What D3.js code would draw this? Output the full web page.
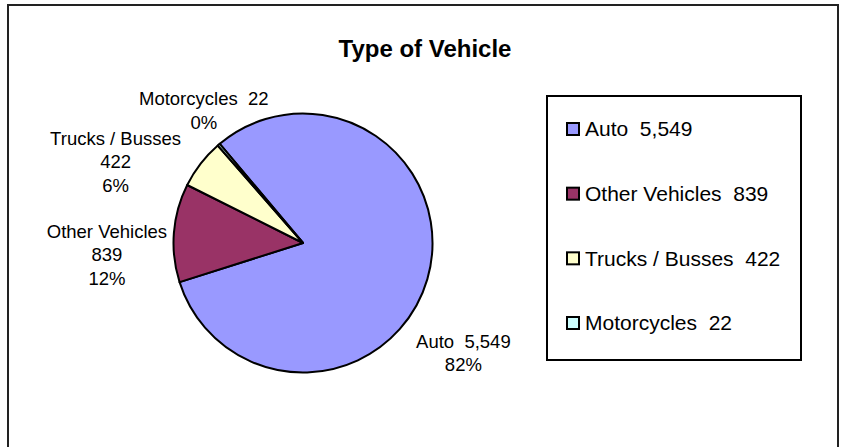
<!DOCTYPE html>
<html>
    <head>
        <meta charset="utf-8">
        <script type="text/javascript" src="https://d3js.org/d3.v7.min.js" charset="utf-8"></script>
        <style>
            body { margin: 0; background: #fff; }
            svg { display: block; }
            text { font-family: 'Liberation Sans', Arial, sans-serif; fill: #000; }
        </style>
    </head>
    <body>
        <script>
            // chart data
            const CATEGORIES = ['Auto', 'Other Vehicles', 'Trucks / Busses', 'Motorcycles'];
            const VALUES = [5549, 839, 422, 22];
            const PERCENT_LABELS = ['82%', '12%', '6%', '0%'];
            const TITLE = 'Type of Vehicle';

            const COLORS = ['#9999ff', '#993366', '#ffffcc', '#ccffff'];

            const WIDTH = 843;
            const HEIGHT = 447;

            const PIE_CX = 303;
            const PIE_CY = 243;
            const PIE_R = 129.5;
            const START_ANGLE = -40 * Math.PI / 180; // first slice rotated like the excel chart

            const LABEL_FONT = 18.5;
            const LABEL_LINE = 23.5;
            // label placement: name and value on separate lines? and nudge from the slice edge
            const LABEL_SPLIT = [false, true, true, false];
            const LABEL_NUDGE = [[36, 74], [-67, 22], [-85, -2], [-15, -34]];

            const LEGEND_X = 547;
            const LEGEND_Y = 96;
            const LEGEND_W = 254;
            const LEGEND_H = 264;
            const LEGEND_FONT = 21;

            const STROKE_COLOR = 'black';

            let fmt = d3.format(',');

            let data = CATEGORIES.map(function(c, i){
                return { name: c, value: VALUES[i], pct: PERCENT_LABELS[i], idx: i };
            });

            let svg = d3.select('body')
            .append('svg')
            .attr('width', WIDTH)
            .attr('height', HEIGHT);

            // chart area border (bottom edge runs off the picture)
            svg.append('rect')
            .attr('x', 8)
            .attr('y', 5)
            .attr('width', 830)
            .attr('height', 460)
            .attr('fill', 'white')
            .attr('stroke', '#222')
            .attr('stroke-width', 2);

            svg.append('text')
            .attr('x', 425)
            .attr('y', 57)
            .attr('text-anchor', 'middle')
            .style('font-size', '24px')
            .style('font-weight', 'bold')
            .text(TITLE);

            let color = d3.scaleOrdinal()
            .domain(CATEGORIES)
            .range(COLORS);

            let pie = d3.pie()
            .sort(null)
            .value(function(d){ return d.value; })
            .startAngle(START_ANGLE)
            .endAngle(START_ANGLE + 2 * Math.PI);

            let arc = d3.arc()
            .innerRadius(0)
            .outerRadius(PIE_R);

            let arcs = pie(data);

            let pieG = svg.append('g')
            .attr('transform', 'translate(' + PIE_CX + ',' + PIE_CY + ')');

            pieG.selectAll('path')
            .data(arcs)
            .enter()
            .append('path')
            .attr('d', arc)
            .attr('fill', function(d){ return color(d.data.name); })
            .attr('stroke', STROKE_COLOR)
            .attr('stroke-width', 2)
            .attr('stroke-linejoin', 'round');

            // data labels
            let labels = pieG.selectAll('g.label')
            .data(arcs)
            .enter()
            .append('g')
            .attr('class', 'label')
            .attr('transform', function(d){
                let mid = (d.startAngle + d.endAngle) / 2;
                let nudge = LABEL_NUDGE[d.data.idx];
                let x = PIE_R * Math.sin(mid) + nudge[0];
                let y = -PIE_R * Math.cos(mid) + nudge[1];
                return 'translate(' + x + ',' + y + ')';
            });

            labels.each(function(d){
                let lines;
                if (LABEL_SPLIT[d.data.idx]) {
                    lines = [d.data.name, fmt(d.data.value), d.data.pct];
                } else {
                    lines = [d.data.name + '  ' + fmt(d.data.value), d.data.pct];
                }
                let top = -(lines.length - 1) * LABEL_LINE / 2 + LABEL_FONT * 0.35;
                d3.select(this).selectAll('text')
                .data(lines)
                .enter()
                .append('text')
                .attr('x', 0)
                .attr('y', function(t, i){ return top + i * LABEL_LINE; })
                .attr('text-anchor', 'middle')
                .style('font-size', LABEL_FONT + 'px')
                .style('white-space', 'pre')
                .text(function(t){ return t; });
            });

            // legend
            let legend = svg.append('g');

            legend.append('rect')
            .attr('x', LEGEND_X)
            .attr('y', LEGEND_Y)
            .attr('width', LEGEND_W)
            .attr('height', LEGEND_H)
            .attr('fill', 'white')
            .attr('stroke', STROKE_COLOR)
            .attr('stroke-width', 2);

            let yLegend = d3.scalePoint()
            .domain(CATEGORIES)
            .range([LEGEND_Y + 33, LEGEND_Y + LEGEND_H - 37]);

            let items = legend.selectAll('g.item')
            .data(data)
            .enter()
            .append('g')
            .attr('class', 'item')
            .attr('transform', function(d){
                return 'translate(' + (LEGEND_X + 20) + ',' + yLegend(d.name) + ')';
            });

            items.append('rect')
            .attr('x', 0)
            .attr('y', -6)
            .attr('width', 12)
            .attr('height', 12)
            .attr('fill', function(d){ return color(d.name); })
            .attr('stroke', STROKE_COLOR)
            .attr('stroke-width', 2);

            items.append('text')
            .attr('x', 18)
            .attr('y', 0)
            .attr('dy', '0.35em')
            .style('font-size', LEGEND_FONT + 'px')
            .style('white-space', 'pre')
            .text(function(d){ return d.name + '  ' + fmt(d.value); });
        </script>
    </body>
</html>
